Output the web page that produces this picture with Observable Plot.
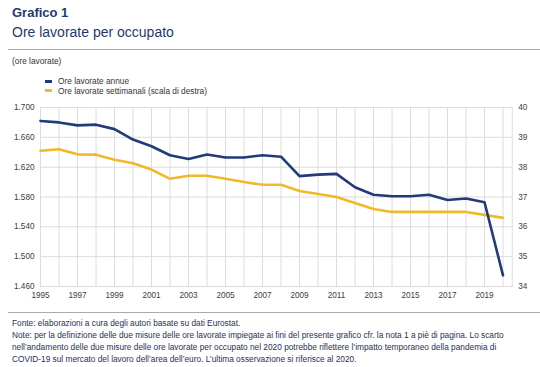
<!DOCTYPE html>
<html>
<head>
<meta charset="utf-8">
<script src="https://cdn.jsdelivr.net/npm/d3@7"></script>
<script src="https://cdn.jsdelivr.net/npm/@observablehq/plot@0.6"></script>
<style>
  html, body { margin: 0; padding: 0; background: #fff; }
  #wrap { position: relative; width: 540px; height: 367px; overflow: hidden;
          font-family: "Liberation Sans", Arial, sans-serif; }
  .t { position: absolute; white-space: nowrap; line-height: 1; }
  .rule { position: absolute; left: 8px; width: 532px; height: 1px; background: #a6abb3; }
  .sw { position: absolute; left: 45px; width: 7px; height: 3px; }
  #plot { position: absolute; left: 0; top: 97px; }
  #notes { position: absolute; left: 12px; top: 317.4px; font-size: 8.3px; line-height: 12px;
           color: #1f2f5a; white-space: nowrap; }
</style>
</head>
<body>
<div id="wrap">
  <div class="t" style="left:12px; top:6px; font-size:13px; font-weight:bold; color:#1f3a6e;">Grafico 1</div>
  <div class="t" style="left:12px; top:24.9px; font-size:14px; color:#1f3a6e;">Ore lavorate per occupato</div>
  <div class="rule" style="top:49px;"></div>
  <div class="t" style="left:12px; top:56.5px; font-size:8.3px; color:#333;">(ore lavorate)</div>
  <div class="sw" style="top:79.5px; background:#223a7a;"></div>
  <div class="t" id="leg1" style="left:58px; top:77px; font-size:8.3px; color:#333;"></div>
  <div class="sw" style="top:89px; background:#f0b92a;"></div>
  <div class="t" id="leg2" style="left:58px; top:86.5px; font-size:8.3px; color:#333;"></div>
  <div id="plot"></div>
  <div class="rule" style="top:312px;"></div>
  <div id="notes">
    Fonte: elaborazioni a cura degli autori basate su dati Eurostat.<br>
    Note: per la definizione delle due misure delle ore lavorate impiegate ai fini del presente grafico cfr. la nota 1 a piè di pagina. Lo scarto<br>
    nell’andamento delle due misure delle ore lavorate per occupato nel 2020 potrebbe riflettere l’impatto temporaneo della pandemia di<br>
    COVID-19 sul mercato del lavoro dell’area dell’euro. L’ultima osservazione si riferisce al 2020.
  </div>
</div>
<script>
const seriesNames = ["Ore lavorate annue", "Ore lavorate settimanali (scala di destra)"];
const years = [1995,1996,1997,1998,1999,2000,2001,2002,2003,2004,2005,2006,2007,
               2008,2009,2010,2011,2012,2013,2014,2015,2016,2017,2018,2019,2020];
const annualHours = [1682,1680,1676,1677,1671,1657,1648,1636,1631,1637,1633,1633,1636,
                     1634,1608,1610,1611,1593,1583,1581,1581,1583,1576,1578,1573,1475];
const weeklyHours = [38.55,38.6,38.43,38.42,38.25,38.13,37.92,37.61,37.71,37.71,37.61,37.5,37.41,
                     37.41,37.2,37.1,37.0,36.8,36.6,36.5,36.5,36.5,36.5,36.5,36.4,36.3];
const xTickYears = [1995,1997,1999,2001,2003,2005,2007,2009,2011,2013,2015,2017,2019];
const leftTicks = [1460,1500,1540,1580,1620,1660,1700];
const rightTicks = [34,35,36,37,38,39,40];

document.getElementById("leg1").textContent = seriesNames[0];
document.getElementById("leg2").textContent = seriesNames[1];

// right-axis values mapped onto the left scale: 34 -> 1460, 40 -> 1700
const toLeft = v => leftTicks[0] + (v - rightTicks[0]) * (leftTicks[leftTicks.length-1] - leftTicks[0]) / (rightTicks[rightTicks.length-1] - rightTicks[0]);

const annualData = years.map((y, i) => ({year: y, value: annualHours[i]}));
const weeklyData = years.map((y, i) => ({year: y, value: toLeft(weeklyHours[i])}));

const itFmt = d => d3.format(",")(d).replace(/,/g, ".");

const chart = Plot.plot({
  width: 540,
  height: 210,
  marginTop: 10,
  marginBottom: 21,
  marginLeft: 40,
  marginRight: 28.25,
  x: {domain: [1995, 2020.5]},
  y: {domain: [leftTicks[0], leftTicks[leftTicks.length-1]]},
  style: {fontFamily: "'Liberation Sans', Arial, sans-serif", fontSize: "8.2px", color: "#404040", background: "transparent"},
  marks: [
    Plot.ruleX(years, {x: d => d, stroke: "#dcdcdc", strokeWidth: 1, strokeOpacity: 1}),
    Plot.ruleY(leftTicks, {y: d => d, stroke: "#dcdcdc", strokeWidth: 1, strokeOpacity: 1}),
    Plot.frame({stroke: "#dcdcdc", strokeOpacity: 1}),
    Plot.axisY(leftTicks, {anchor: "left", tickSize: 0, tickPadding: 6, tickFormat: itFmt, label: null, fill: "#404040"}),
    Plot.axisY(leftTicks, {anchor: "right", tickSize: 0, tickPadding: 6, tickFormat: (d, i) => String(rightTicks[i]), label: null, fill: "#404040"}),
    Plot.axisX(xTickYears, {anchor: "bottom", tickSize: 0, tickPadding: 6, tickFormat: d => String(d), label: null, fill: "#404040"}),
    Plot.line(weeklyData, {x: "year", y: "value", stroke: "#f0b92a", strokeWidth: 2.6, strokeLinejoin: "round"}),
    Plot.line(annualData, {x: "year", y: "value", stroke: "#223a7a", strokeWidth: 2.6, strokeLinejoin: "round"})
  ]
});
document.getElementById("plot").appendChild(chart);
</script>
</body>
</html>
